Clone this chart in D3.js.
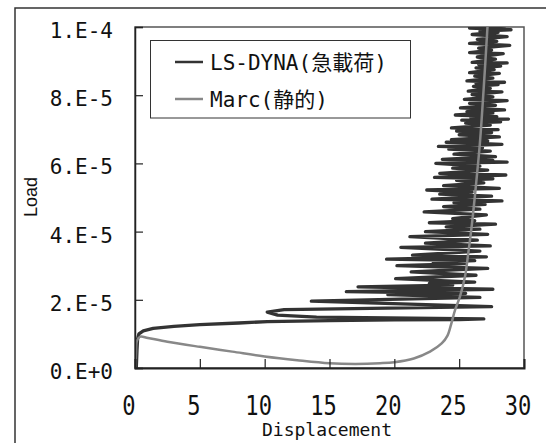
<!DOCTYPE html>
<html>
<head>
<meta charset="utf-8">
<script src="https://cdn.jsdelivr.net/npm/d3@7"></script>
<style>
  body { margin: 0; background: #fff; }
  svg { display: block; }
</style>
</head>
<body>
<div id="chart"></div>
<script>
// tick labels
const xTicks = [0, 5, 10, 15, 20, 25, 30];
const yTicks = [0, 2e-5, 4e-5, 6e-5, 8e-5, 1e-4];
const yTickLabels = ["0.E+0", "2.E-5", "4.E-5", "6.E-5", "8.E-5", "1.E-4"];

const seriesNames = ["LS-DYNA(急載荷)", "Marc(静的)"];

// Marc (static) : [displacement, load in 1e-5]
const marcData = [
  [0.05, 0], [0.08, 0.45], [0.15, 0.8], [0.4, 0.92], [1, 0.88], [2.5, 0.77],
  [5, 0.62], [7.5, 0.48], [10, 0.34], [12.5, 0.23], [15, 0.14], [17, 0.12],
  [18.9, 0.14], [20, 0.17], [21.5, 0.28], [22.75, 0.48], [23.65, 0.72],
  [24.1, 0.95], [24.4, 1.31], [24.68, 1.7], [25.06, 2.09], [25.45, 2.68],
  [25.7, 3.36], [25.96, 4.14], [26.2, 5.0], [26.6, 6.6], [26.9, 8.25], [27.2, 10.1]
];

// LS-DYNA (impact load) : [displacement, load in 1e-5]
const dynaData = [
  [0.1, 0], [0.15, 0.5], [0.2, 0.85], [0.3, 1.0], [0.64, 1.09], [1.4, 1.16],
  [3, 1.22], [5, 1.27], [8, 1.32], [10.2, 1.36], [15, 1.39], [20, 1.41],
  [25, 1.42], [26.9, 1.44],
  [14, 1.49], [11, 1.55], [10.2, 1.64], [11.5, 1.71], [27.5, 1.80],
  [13.6, 1.96], [26.6, 2.07], [19.5, 2.15], [25.5, 2.19], [16.3, 2.24],
  [27.6, 2.31], [17.2, 2.38], [24.5, 2.43], [22.7, 2.48], [26.2, 2.52],
  [20.1, 2.62], [26.3, 2.72], [21.3, 2.82], [27.2, 2.92], [20.2, 3.00],
  [25.5, 3.06], [23.0, 3.10], [26.2, 3.15], [19.4, 3.19], [27.1, 3.26],
  [21.4, 3.31], [26.6, 3.43], [20.5, 3.54], [27.4, 3.58], [22.4, 3.66],
  [26.4, 3.75], [21.2, 3.85], [27.2, 3.92], [22.4, 4.00], [26.6, 4.07],
  [24.0, 4.14], [27.8, 4.22], [22.7, 4.26], [26.2, 4.32], [24.5, 4.38],
  [27.1, 4.49], [22.3, 4.58], [26.6, 4.66], [23.8, 4.73], [27.0, 4.80],
  [24.6, 4.85], [28.3, 4.90], [22.9, 4.95], [27.5, 5.04], [23.5, 5.10],
  [26.0, 5.16], [22.5, 5.22], [28.1, 5.27], [23.8, 5.35], [26.9, 5.43],
  [24.8, 5.50], [27.6, 5.55], [23.1, 5.59], [28.6, 5.66], [23.5, 5.71],
  [27.2, 5.80], [24.5, 5.86], [26.6, 5.92], [23.2, 6.00], [28.7, 6.04],
  [25.5, 6.07], [27.6, 6.09], [23.7, 6.12], [27.8, 6.20], [24.6, 6.27],
  [27.4, 6.36], [24.2, 6.42], [26.8, 6.46], [23.4, 6.50], [28.3, 6.56],
  [24.0, 6.62], [27.2, 6.66], [24.4, 6.70], [28.1, 6.78], [25.0, 6.84],
  [27.5, 6.90], [24.8, 6.95], [28.0, 6.99], [24.4, 7.04], [27.4, 7.12],
  [25.5, 7.18], [28.2, 7.22], [25.2, 7.27], [28.8, 7.30], [25.9, 7.34],
  [27.9, 7.37], [24.7, 7.42], [27.6, 7.48], [25.6, 7.52], [28.5, 7.57],
  [25.1, 7.63], [27.8, 7.70], [25.8, 7.76], [28.7, 7.84], [25.4, 7.88],
  [27.6, 7.95], [26.0, 8.02], [28.3, 8.10], [25.7, 8.12], [27.4, 8.20],
  [26.1, 8.26], [28.0, 8.31], [26.3, 8.34], [28.5, 8.38], [25.6, 8.42],
  [27.6, 8.50], [26.2, 8.56], [28.1, 8.64], [25.8, 8.66], [27.7, 8.75],
  [26.3, 8.80], [28.2, 8.85], [26.5, 8.90], [28.7, 8.95], [26.0, 8.96],
  [27.8, 9.06], [26.4, 9.12], [28.4, 9.22], [25.8, 9.25], [27.5, 9.32],
  [26.5, 9.38], [28.9, 9.46], [25.8, 9.52], [27.9, 9.58], [26.4, 9.64],
  [28.7, 9.72], [26.0, 9.78], [28.0, 9.84], [26.6, 9.88], [29.0, 9.92],
  [25.8, 9.97], [28.5, 10.03], [26.2, 10.08]
];

const width = 546, height = 443;
const plot = { left: 135, right: 524, top: 27, bottom: 368 };

const svg = d3.select("#chart").append("svg")
  .attr("width", width)
  .attr("height", height);

// outer frame
svg.append("rect")
  .attr("x", 15).attr("y", 8)
  .attr("width", 560).attr("height", 460)
  .attr("fill", "none")
  .attr("stroke", "#333")
  .attr("stroke-width", 1.5);

const x = d3.scaleLinear().domain([0, 30]).range([plot.left, plot.right]);
const y = d3.scaleLinear().domain([0, 1e-4]).range([plot.bottom, plot.top]);

svg.append("defs").append("clipPath").attr("id", "clip")
  .append("rect")
  .attr("x", plot.left).attr("y", plot.top)
  .attr("width", plot.right - plot.left).attr("height", plot.bottom - plot.top);

// plot frame
svg.append("rect")
  .attr("x", plot.left).attr("y", plot.top)
  .attr("width", plot.right - plot.left).attr("height", plot.bottom - plot.top)
  .attr("fill", "none")
  .attr("stroke", "#555")
  .attr("stroke-width", 1.5);

const line = d3.line()
  .x(d => x(d[0]))
  .y(d => y(d[1] * 1e-5));

const g = svg.append("g").attr("clip-path", "url(#clip)");

g.append("path")
  .datum(dynaData)
  .attr("d", line)
  .attr("fill", "none")
  .attr("stroke", "#333")
  .attr("stroke-width", 3.3)
  .attr("stroke-linejoin", "round")
  .attr("stroke-linecap", "round");

g.append("path")
  .datum(marcData)
  .attr("d", line.curve(d3.curveCatmullRom.alpha(0.5)))
  .attr("fill", "none")
  .attr("stroke", "#888")
  .attr("stroke-width", 2.5);

// axes: inward ticks, labels drawn separately
const yAxis = d3.axisLeft(y).tickValues(yTicks).tickSize(-8).tickFormat("");
svg.append("g")
  .attr("transform", `translate(${plot.left},0)`)
  .call(yAxis)
  .call(a => a.select(".domain").attr("stroke", "#222").attr("stroke-width", 1.5))
  .call(a => a.selectAll(".tick line").attr("stroke", "#222").attr("stroke-width", 1.2));

const xAxis = d3.axisBottom(x).tickValues(xTicks).tickSize(-9).tickFormat("");
svg.append("g")
  .attr("transform", `translate(0,${plot.bottom})`)
  .call(xAxis)
  .call(a => a.select(".domain").attr("stroke", "#222").attr("stroke-width", 2))
  .call(a => a.selectAll(".tick line").attr("stroke", "#222").attr("stroke-width", 1.2));

// y tick labels
svg.selectAll(".ylab")
  .data(yTicks)
  .enter().append("text")
  .attr("class", "ylab")
  .attr("x", plot.left - 22)
  .attr("y", d => y(d) + 11)
  .attr("text-anchor", "end")
  .style("font-family", "'DejaVu Sans Mono', monospace")
  .style("font-size", "21px")
  .attr("fill", "#111")
  .text((d, i) => yTickLabels[i]);

// x tick labels (narrow, tall digits)
svg.selectAll(".xlab")
  .data(xTicks)
  .enter().append("text")
  .attr("class", "xlab")
  .attr("transform", d => `translate(${x(d) - 6},${plot.bottom + 47}) scale(0.85,1)`)
  .attr("text-anchor", "middle")
  .style("font-family", "'DejaVu Sans Mono', monospace")
  .style("font-size", "26px")
  .attr("fill", "#111")
  .text(d => d);

// axis titles
svg.append("text")
  .attr("x", 327)
  .attr("y", 436)
  .attr("text-anchor", "middle")
  .style("font-family", "'DejaVu Sans Mono', monospace")
  .style("font-size", "18px")
  .attr("fill", "#111")
  .text("Displacement");

svg.append("text")
  .attr("transform", "translate(36.5,197) rotate(-90)")
  .attr("text-anchor", "middle")
  .style("font-family", "'Liberation Sans', Arial, sans-serif")
  .style("font-size", "18px")
  .attr("fill", "#111")
  .text("Load");

// legend
svg.append("rect")
  .attr("x", 150.5).attr("y", 40.5)
  .attr("width", 260).attr("height", 77.5)
  .attr("fill", "#fff")
  .attr("stroke", "#333")
  .attr("stroke-width", 1);

const legendColors = ["#333", "#888"];
const legend = svg.selectAll(".legend")
  .data(seriesNames)
  .enter().append("g")
  .attr("class", "legend")
  .attr("transform", (d, i) => `translate(0,${62 + i * 37})`);

legend.append("line")
  .attr("x1", 175).attr("x2", 203)
  .attr("stroke", (d, i) => legendColors[i])
  .attr("stroke-width", 2.5);

legend.append("text")
  .attr("x", 210)
  .attr("y", 7.5)
  .style("font-family", "'DejaVu Sans Mono', 'Noto Sans CJK JP', monospace")
  .style("font-size", "21px")
  .attr("fill", "#111")
  .text(d => d);
</script>
</body>
</html>
